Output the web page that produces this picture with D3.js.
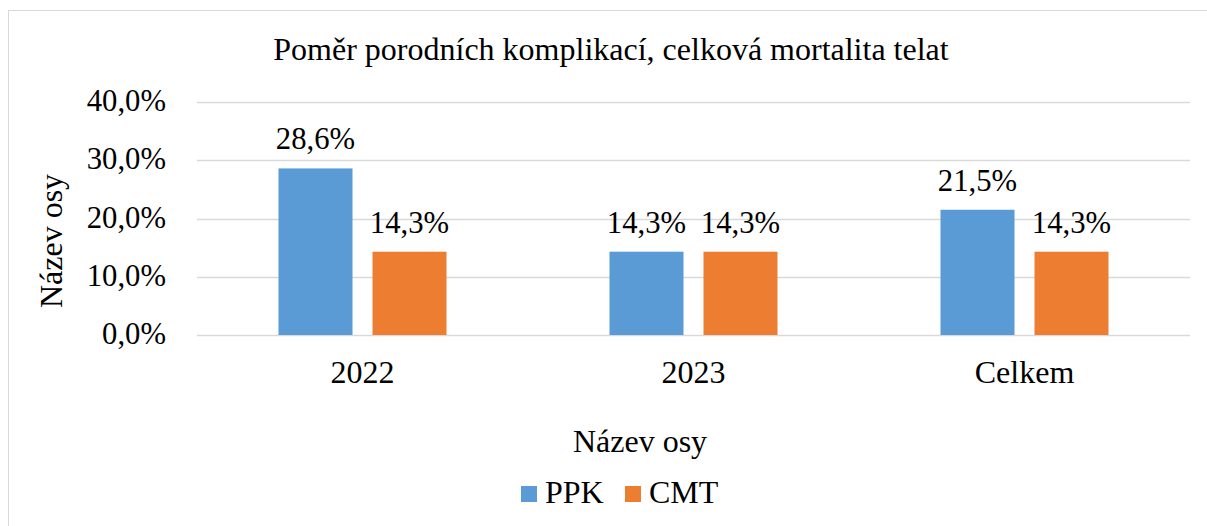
<!DOCTYPE html>
<html>
<head>
<meta charset="utf-8">
<script src="https://cdn.jsdelivr.net/npm/d3@7"></script>
<style>
body { margin: 0; background: #fff; }
</style>
</head>
<body>
<svg id="chart"></svg>
<script>
// data
var categories = ["2022", "2023", "Celkem"]
var seriesNames = ["PPK", "CMT"]
var ppk = [28.6, 14.3, 21.5]
var cmt = [14.3, 14.3, 14.3]
var yTicks = [0, 10, 20, 30, 40]
var colors = ["#5B9BD5", "#ED7D31"]

var width = 1207
var height = 526
var font = "Liberation Serif, serif"
var fsNum = "30.7px"   // numbers
var fsTxt = "32px"     // words
var svg = d3.select("#chart").attr("width", width).attr("height", height)
  .attr("font-family", font)

// chart border
svg.append("rect")
  .attr("x", 8.5).attr("y", 10.5)
  .attr("width", width - 8).attr("height", height)
  .attr("fill", "none").attr("stroke", "#d9d9d9")

var plotLeft = 197, plotRight = 1190, plotTop = 102, plotBottom = 335

var x = d3.scaleBand().domain(categories).range([plotLeft, plotRight])
var y = d3.scaleLinear().domain([0, 40]).range([plotBottom, plotTop])

// gridlines
svg.append("g").selectAll("line")
  .data(yTicks)
  .enter()
  .append("line")
  .attr("x1", plotLeft).attr("x2", plotRight)
  .attr("y1", d => Math.round(y(d)) + 0.5)
  .attr("y2", d => Math.round(y(d)) + 0.5)
  .attr("stroke", "#d9d9d9").attr("stroke-width", 1.5)

// y tick labels
svg.append("g").selectAll("text")
  .data(yTicks)
  .enter()
  .append("text")
  .attr("x", 166).attr("y", d => y(d) + 9)
  .attr("text-anchor", "end")
  .attr("font-size", fsNum)
  .text(d => d.toFixed(1).replace(".", ",") + "%")

// bars
var barW = 74, gap = 20
var rows = categories.map((c, i) => ({cat: c, vals: [ppk[i], cmt[i]]}))
var groups = svg.append("g").selectAll("g")
  .data(rows)
  .enter()
  .append("g")

groups.selectAll("rect")
  .data(d => d.vals.map((v, j) => ({cat: d.cat, v: v, j: j})))
  .enter()
  .append("rect")
  .attr("x", d => x(d.cat) + x.bandwidth() / 2 - barW - gap / 2 + d.j * (barW + gap))
  .attr("y", d => y(d.v))
  .attr("width", barW)
  .attr("height", d => y(0) - y(d.v))
  .attr("fill", d => colors[d.j])

groups.selectAll("text")
  .data(d => d.vals.map((v, j) => ({cat: d.cat, v: v, j: j})))
  .enter()
  .append("text")
  .attr("x", d => x(d.cat) + x.bandwidth() / 2 - barW / 2 - gap / 2 + d.j * (barW + gap))
  .attr("y", d => y(d.v) - 19)
  .attr("text-anchor", "middle")
  .attr("font-size", fsNum)
  .text(d => d.v.toFixed(1).replace(".", ",") + "%")

// category labels
svg.append("g").selectAll("text")
  .data(categories)
  .enter()
  .append("text")
  .attr("x", d => x(d) + x.bandwidth() / 2)
  .attr("y", 383)
  .attr("text-anchor", "middle")
  .attr("font-size", fsTxt)
  .text(d => d)

// title
svg.append("text")
  .attr("x", 611).attr("y", 60)
  .attr("text-anchor", "middle")
  .attr("font-size", fsTxt)
  .text("Poměr porodních komplikací, celková mortalita telat")

// axis titles
svg.append("text")
  .attr("x", 640).attr("y", 452)
  .attr("text-anchor", "middle")
  .attr("font-size", fsTxt)
  .text("Název osy")

svg.append("text")
  .attr("transform", "translate(62,241) rotate(-90)")
  .attr("text-anchor", "middle")
  .attr("font-size", fsTxt)
  .text("Název osy")

// legend
var legendX = [521, 625]
var legend = svg.append("g").selectAll("g")
  .data(seriesNames)
  .enter()
  .append("g")
  .attr("transform", (d, i) => "translate(" + legendX[i] + ",486)")
legend.append("rect")
  .attr("width", 16).attr("height", 16)
  .attr("fill", (d, i) => colors[i])
legend.append("text")
  .attr("x", 24).attr("y", 17)
  .attr("font-size", fsTxt)
  .text(d => d)
</script>
</body>
</html>
